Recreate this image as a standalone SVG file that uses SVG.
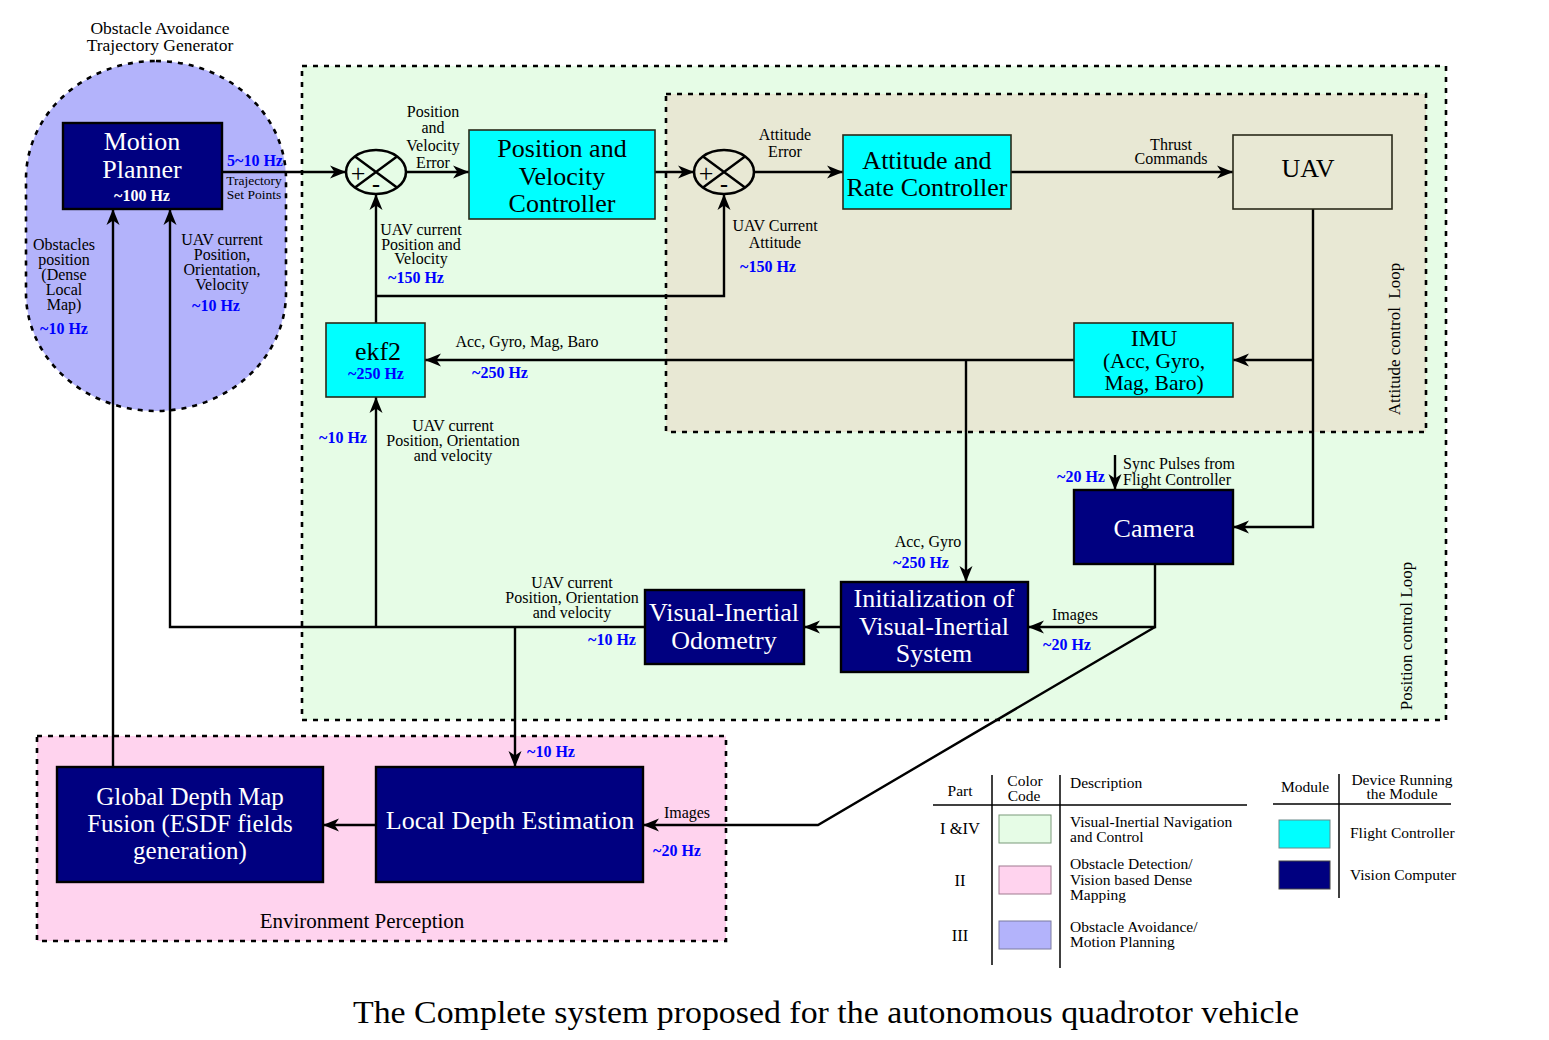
<svg xmlns="http://www.w3.org/2000/svg" width="1549" height="1040" viewBox="0 0 1549 1040">
<defs>
<marker id="ah" markerUnits="userSpaceOnUse" markerWidth="18" markerHeight="14" refX="16" refY="7" orient="auto">
<path d="M0,0.5 L16,7 L0,13.5 L4.5,7 z" fill="#000"/>
</marker>
<style>
text{font-family:"Liberation Serif","Times New Roman",serif;fill:#000}
.region{stroke:#000;stroke-width:2.6;stroke-dasharray:5,6}
.cyan{fill:#00ffff;stroke:#2a2a1a;stroke-width:1.6}
.navy{fill:#000080;stroke:#000;stroke-width:2.4}
.big{font-size:26px;text-anchor:middle}
.w{fill:#fff}
.lbl{font-size:16px;text-anchor:middle}
.hz{font-size:16px;font-weight:bold;fill:#0000ff;text-anchor:middle}
.conn path{fill:none;stroke:#000;stroke-width:2.4}
.leg{font-size:15.5px}
.legline{stroke:#000;stroke-width:1.5}
</style>
</defs>
<rect width="1549" height="1040" fill="#fff"/>

<!-- Regions -->
<g id="region-position-loop">
<rect class="region" x="302" y="66" width="1144" height="654" fill="#e6fce6"/>
<text class="lbl" transform="translate(1412,636) rotate(-90)" style="font-size:17px">Position control Loop</text>
</g>
<g id="region-attitude-loop">
<rect class="region" x="666" y="94" width="760" height="338" fill="#e8e8d4"/>
<text class="lbl" transform="translate(1400,339) rotate(-90)" style="font-size:17px;white-space:pre">Attitude control  Loop</text>
</g>
<g id="region-environment">
<rect class="region" x="37" y="736" width="689" height="205" fill="#ffd3ee"/>
<text x="362" y="928" style="font-size:21px;text-anchor:middle">Environment Perception</text>
</g>
<g id="region-obstacle-avoidance">
<rect class="region" x="26" y="61" width="260" height="350" rx="130" ry="118" fill="#b3b3fb"/>
<text class="lbl" x="160" y="34" style="font-size:17.5px">Obstacle Avoidance</text>
<text class="lbl" x="160" y="51" style="font-size:17.5px">Trajectory Generator</text>
</g>

<!-- Connectors -->
<g id="connectors" class="conn">
<path d="M222,172 H346" marker-end="url(#ah)"/>
<path d="M406,172 H469" marker-end="url(#ah)"/>
<path d="M655,172 H694" marker-end="url(#ah)"/>
<path d="M754,172 H843" marker-end="url(#ah)"/>
<path d="M1011,172 H1233" marker-end="url(#ah)"/>
<path d="M1313,209 V527 H1233" marker-end="url(#ah)"/>
<path d="M1313,360 H1233" marker-end="url(#ah)"/>
<path d="M1074,360 H425" marker-end="url(#ah)"/>
<path d="M966,360 V582" marker-end="url(#ah)"/>
<path d="M376,323 V194" marker-end="url(#ah)"/>
<path d="M376,296 H724 V194" marker-end="url(#ah)"/>
<path d="M645,627 H170 V209" marker-end="url(#ah)"/>
<path d="M376,627 V397" marker-end="url(#ah)"/>
<path d="M515,627 V767" marker-end="url(#ah)"/>
<path d="M841,627 H804" marker-end="url(#ah)"/>
<path d="M1155,564 V627 H1028" marker-end="url(#ah)"/>
<path d="M1155,627 L818,825 H643" marker-end="url(#ah)"/>
<path d="M1115,455 V490" marker-end="url(#ah)"/>
<path d="M376,825 H323" marker-end="url(#ah)"/>
<path d="M113,767 V209" marker-end="url(#ah)"/>
</g>

<!-- Connector labels -->
<g id="connector-labels">
<text class="hz" x="255" y="166">5~10 Hz</text>
<text class="lbl" x="254" y="185" style="font-size:13.5px">Trajectory</text>
<text class="lbl" x="254" y="199" style="font-size:13.5px">Set Points</text>
<text class="lbl" x="64" y="250">Obstacles</text>
<text class="lbl" x="64" y="265">position</text>
<text class="lbl" x="64" y="280">(Dense</text>
<text class="lbl" x="64" y="295">Local</text>
<text class="lbl" x="64" y="310">Map)</text>
<text class="hz" x="64" y="334">~10 Hz</text>
<text class="lbl" x="222" y="245">UAV current</text>
<text class="lbl" x="222" y="260">Position,</text>
<text class="lbl" x="222" y="275">Orientation,</text>
<text class="lbl" x="222" y="290">Velocity</text>
<text class="hz" x="216" y="311">~10 Hz</text>
<text class="lbl" x="433" y="117">Position</text>
<text class="lbl" x="433" y="133">and</text>
<text class="lbl" x="433" y="151">Velocity</text>
<text class="lbl" x="433" y="168">Error</text>
<text class="lbl" x="421" y="235">UAV current</text>
<text class="lbl" x="421" y="250">Position and</text>
<text class="lbl" x="421" y="264">Velocity</text>
<text class="hz" x="416" y="283">~150 Hz</text>
<text class="lbl" x="785" y="140">Attitude</text>
<text class="lbl" x="785" y="157">Error</text>
<text class="lbl" x="775" y="231">UAV Current</text>
<text class="lbl" x="775" y="248">Attitude</text>
<text class="hz" x="768" y="272">~150 Hz</text>
<text class="lbl" x="1171" y="150">Thrust</text>
<text class="lbl" x="1171" y="164">Commands</text>
<text class="lbl" x="527" y="347">Acc, Gyro, Mag, Baro</text>
<text class="hz" x="500" y="378">~250 Hz</text>
<text class="hz" x="343" y="443">~10 Hz</text>
<text class="lbl" x="453" y="431">UAV current</text>
<text class="lbl" x="453" y="446">Position, Orientation</text>
<text class="lbl" x="453" y="461">and velocity</text>
<text class="lbl" x="1123" y="469" style="text-anchor:start">Sync Pulses from</text>
<text class="lbl" x="1123" y="485" style="text-anchor:start">Flight Controller</text>
<text class="hz" x="1081" y="482">~20 Hz</text>
<text class="lbl" x="928" y="547">Acc, Gyro</text>
<text class="hz" x="921" y="568">~250 Hz</text>
<text class="lbl" x="1075" y="620">Images</text>
<text class="hz" x="1067" y="650">~20 Hz</text>
<text class="lbl" x="572" y="588">UAV current</text>
<text class="lbl" x="572" y="603">Position, Orientation</text>
<text class="lbl" x="572" y="618">and velocity</text>
<text class="hz" x="612" y="645">~10 Hz</text>
<text class="hz" x="551" y="757">~10 Hz</text>
<text class="lbl" x="687" y="818">Images</text>
<text class="hz" x="677" y="856">~20 Hz</text>
</g>

<!-- Nodes -->
<g id="motion-planner">
<rect class="navy" x="63" y="123" width="159" height="86"/>
<text class="big w" x="142" y="150">Motion</text>
<text class="big w" x="142" y="178">Planner</text>
<text class="hz" x="142" y="201" style="fill:#fff">~100 Hz</text>
</g>
<g id="sum1">
<ellipse cx="376" cy="172" rx="30" ry="22" fill="none" stroke="#000" stroke-width="2.6"/>
<path d="M355,156.5 L397,187.5 M397,156.5 L355,187.5" stroke="#000" stroke-width="2.4"/>
<text x="358" y="182" style="font-size:26px;text-anchor:middle">+</text>
<text x="376" y="192" style="font-size:24px;font-weight:bold;text-anchor:middle">-</text>
</g>
<g id="position-velocity-controller">
<rect class="cyan" x="469" y="130" width="186" height="89"/>
<text class="big" x="562" y="157">Position and</text>
<text class="big" x="562" y="185">Velocity</text>
<text class="big" x="562" y="212">Controller</text>
</g>
<g id="sum2">
<ellipse cx="724" cy="172" rx="30" ry="22" fill="none" stroke="#000" stroke-width="2.6"/>
<path d="M703,156.5 L745,187.5 M745,156.5 L703,187.5" stroke="#000" stroke-width="2.4"/>
<text x="706" y="182" style="font-size:26px;text-anchor:middle">+</text>
<text x="724" y="192" style="font-size:24px;font-weight:bold;text-anchor:middle">-</text>
</g>
<g id="attitude-rate-controller">
<rect class="cyan" x="843" y="135" width="168" height="74"/>
<text class="big" x="927" y="169">Attitude and</text>
<text class="big" x="927" y="196">Rate Controller</text>
</g>
<g id="uav">
<rect x="1233" y="135" width="159" height="74" fill="#e8e8d4" stroke="#2a2a1a" stroke-width="1.6"/>
<text class="big" x="1308" y="177">UAV</text>
</g>
<g id="imu">
<rect class="cyan" x="1074" y="323" width="159" height="74"/>
<text class="big" x="1154" y="346" style="font-size:24px">IMU</text>
<text class="big" x="1154" y="368" style="font-size:21.5px">(Acc, Gyro,</text>
<text class="big" x="1154" y="390" style="font-size:21.5px">Mag, Baro)</text>
</g>
<g id="ekf2">
<rect class="cyan" x="326" y="323" width="99" height="74"/>
<text class="big" x="378" y="360">ekf2</text>
<text class="hz" x="376" y="379">~250 Hz</text>
</g>
<g id="camera">
<rect class="navy" x="1074" y="490" width="159" height="74"/>
<text class="big w" x="1154" y="537">Camera</text>
</g>
<g id="init-vis">
<rect class="navy" x="841" y="582" width="187" height="90"/>
<text class="big w" x="934" y="607">Initialization of</text>
<text class="big w" x="934" y="635">Visual-Inertial</text>
<text class="big w" x="934" y="662">System</text>
</g>
<g id="vio">
<rect class="navy" x="645" y="590" width="159" height="74"/>
<text class="big w" x="724" y="621">Visual-Inertial</text>
<text class="big w" x="724" y="649">Odometry</text>
</g>
<g id="global-depth-map">
<rect class="navy" x="57" y="767" width="266" height="115"/>
<text class="big w" x="190" y="805" style="font-size:25px">Global Depth Map</text>
<text class="big w" x="190" y="832" style="font-size:25px">Fusion (ESDF fields</text>
<text class="big w" x="190" y="859" style="font-size:25px">generation)</text>
</g>
<g id="local-depth-estimation">
<rect class="navy" x="376" y="767" width="267" height="115"/>
<text class="big w" x="510" y="829">Local Depth Estimation</text>
</g>

<!-- Legend -->
<g id="legend-parts">
<line class="legline" x1="933" y1="805" x2="1247" y2="805"/>
<line class="legline" x1="992" y1="775" x2="992" y2="965"/>
<line class="legline" x1="1060" y1="775" x2="1060" y2="968"/>
<text class="leg" x="960" y="796" text-anchor="middle">Part</text>
<text class="leg" x="1025" y="786" text-anchor="middle">Color</text>
<text class="leg" x="1024" y="801" text-anchor="middle">Code</text>
<text class="leg" x="1070" y="788">Description</text>
<text class="leg" x="960" y="834" text-anchor="middle" style="font-size:16.5px">I &amp;IV</text>
<rect x="999" y="815" width="52" height="28" fill="#e6fce6" stroke="#7a9a7a" stroke-width="1"/>
<text class="leg" x="1070" y="827">Visual-Inertial Navigation</text>
<text class="leg" x="1070" y="842">and Control</text>
<text class="leg" x="960" y="886" text-anchor="middle" style="font-size:16.5px">II</text>
<rect x="999" y="866" width="52" height="28" fill="#ffd3ee" stroke="#a07a90" stroke-width="1"/>
<text class="leg" x="1070" y="869">Obstacle Detection/</text>
<text class="leg" x="1070" y="885">Vision based Dense</text>
<text class="leg" x="1070" y="900">Mapping</text>
<text class="leg" x="960" y="941" text-anchor="middle" style="font-size:16.5px">III</text>
<rect x="999" y="921" width="52" height="28" fill="#b3b3fb" stroke="#7a7aa0" stroke-width="1"/>
<text class="leg" x="1070" y="932">Obstacle Avoidance/</text>
<text class="leg" x="1070" y="947">Motion Planning</text>
</g>
<g id="legend-modules">
<line class="legline" x1="1273" y1="804" x2="1451" y2="804"/>
<line class="legline" x1="1339" y1="774" x2="1339" y2="898"/>
<text class="leg" x="1305" y="792" text-anchor="middle">Module</text>
<text class="leg" x="1402" y="785" text-anchor="middle">Device Running</text>
<text class="leg" x="1402" y="799" text-anchor="middle">the Module</text>
<rect x="1279" y="820" width="51" height="28" fill="#00ffff" stroke="#6a8a8a" stroke-width="1"/>
<text class="leg" x="1350" y="838">Flight Controller</text>
<rect x="1279" y="861" width="51" height="28" fill="#000080" stroke="#444" stroke-width="1"/>
<text class="leg" x="1350" y="880">Vision Computer</text>
</g>

<text id="caption" x="826" y="1023" text-anchor="middle" textLength="946" lengthAdjust="spacingAndGlyphs" style="font-size:31px">The Complete system proposed for the autonomous quadrotor vehicle</text>
</svg>
